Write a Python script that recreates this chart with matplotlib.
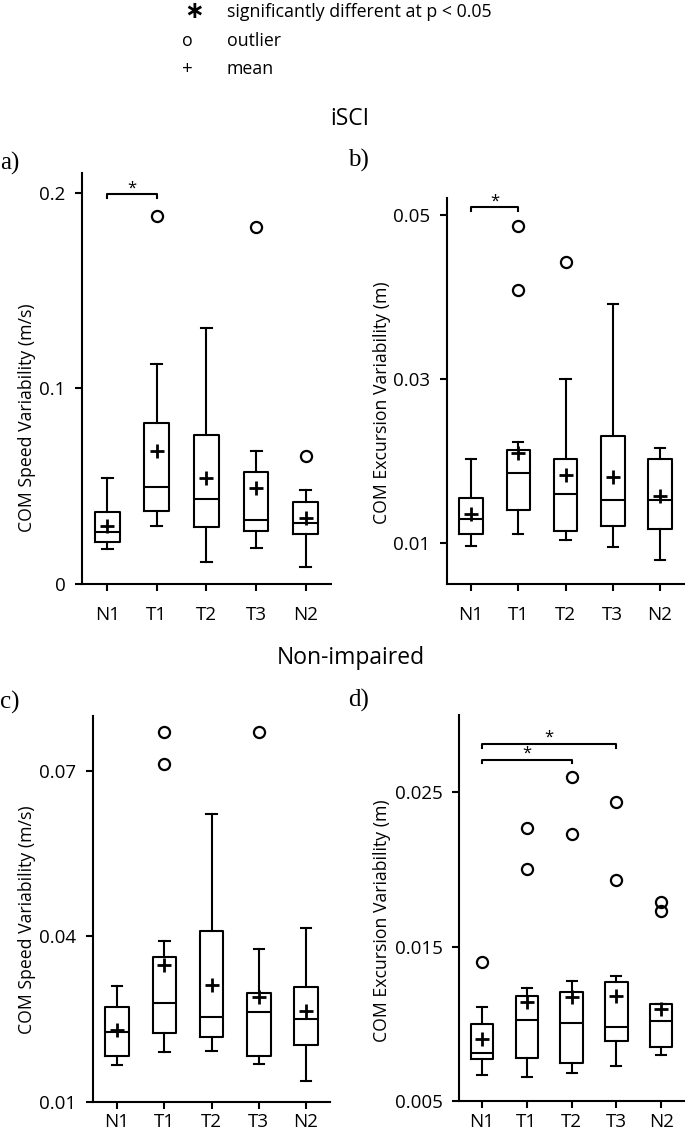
import matplotlib
matplotlib.use('Agg')
import matplotlib.pyplot as plt

plt.rcParams['font.family'] = ['Open Sans', 'DejaVu Sans']

groups = ['N1', 'T1', 'T2', 'T3', 'N2']

# a) iSCI COM speed variability (m/s)
a_whislo = [0.0179, 0.0297, 0.0113, 0.0182, 0.0085]
a_q1 = [0.0217, 0.0373, 0.0292, 0.0271, 0.0254]
a_med = [0.0268, 0.0495, 0.0433, 0.0327, 0.0312]
a_q3 = [0.0367, 0.0825, 0.0764, 0.0571, 0.0418]
a_whishi = [0.0540, 0.1124, 0.1308, 0.0682, 0.0481]
a_mean = [0.0298, 0.0682, 0.0544, 0.0489, 0.0339]
a_fliers = [[], [0.188], [], [0.1824], [0.0655]]

# b) iSCI COM excursion variability (m)
b_whislo = [0.00959, 0.01113, 0.01032, 0.00955, 0.00797]
b_q1 = [0.01113, 0.01406, 0.01141, 0.01211, 0.01174]
b_med = [0.01292, 0.01852, 0.01597, 0.01527, 0.01527]
b_q3 = [0.01543, 0.02128, 0.02027, 0.02298, 0.02027]
b_whishi = [0.0202, 0.02234, 0.02993, 0.03915, 0.02161]
b_mean = [0.01357, 0.02096, 0.01832, 0.01804, 0.01568]
b_fliers = [[], [0.04868, 0.04082], [0.0443], [], []]

# c) non-impaired COM speed variability (m/s)
c_whislo = [0.0166, 0.01895, 0.01919, 0.01678, 0.01381]
c_q1 = [0.01828, 0.02251, 0.02178, 0.01828, 0.02028]
c_med = [0.02258, 0.02795, 0.0253, 0.02626, 0.02493]
c_q3 = [0.02722, 0.03617, 0.041, 0.02965, 0.03085]
c_whishi = [0.03097, 0.03918, 0.06215, 0.03762, 0.04154]
c_mean = [0.023, 0.03483, 0.03115, 0.02903, 0.02644]
c_fliers = [[], [0.07707, 0.07127], [], [0.07707], []]

# d) non-impaired COM excursion variability (m)
d_whislo = [0.0067, 0.00654, 0.00684, 0.00727, 0.00796]
d_q1 = [0.0077, 0.00777, 0.00744, 0.00891, 0.00848]
d_med = [0.00809, 0.01025, 0.01004, 0.00978, 0.0102]
d_q3 = [0.01001, 0.01183, 0.01209, 0.01274, 0.01129]
d_whishi = [0.0111, 0.01231, 0.0128, 0.01311, 0.01129]
d_mean = [0.009, 0.01144, 0.01176, 0.01181, 0.01095]
d_fliers = [[0.014], [0.02268, 0.020], [0.026, 0.02227], [0.02437, 0.01929], [0.01789, 0.01728]]

# significance brackets: (from group, to group, height)
a_sig = [(0, 1, 0.1993)]
b_sig = [(0, 1, 0.0509)]
c_sig = []
d_sig = [(0, 2, 0.02711), (0, 3, 0.02813)]

fig = plt.figure(figsize=(6.85, 11.36), dpi=100)

lw = 1.5
kw = dict(color='black', linewidth=lw)
narrow = ['Liberation Sans Narrow', 'Open Sans', 'DejaVu Sans']


def make_stats(whislo, q1, med, q3, whishi, mean, fliers):
    stats = []
    for i in range(len(groups)):
        stats.append(dict(whislo=whislo[i], q1=q1[i], med=med[i], q3=q3[i],
                          whishi=whishi[i], mean=mean[i], fliers=fliers[i]))
    return stats


def panel(rect, stats, ylim, yticks, yticklabels, ylabel, sig, lab_x, lab_y, xpad=11):
    ax = fig.add_axes(rect)
    ax.bxp(stats, positions=range(1, 6), widths=0.5, showmeans=True,
           boxprops=kw, medianprops=kw, whiskerprops=kw,
           capprops=kw, capwidths=0.22,
           meanprops=dict(marker='+', markersize=10, markeredgewidth=2,
                          markeredgecolor='black'),
           flierprops=dict(marker='o', markersize=8, markerfacecolor='none',
                           markeredgecolor='black', markeredgewidth=1.6))
    ax.set_xlim(0.49, 5.51)
    ax.set_ylim(*ylim)
    ax.set_xticks(range(1, 6))
    ax.set_xticklabels(groups, fontsize=13.5)
    ax.set_yticks(yticks)
    ax.set_yticklabels(yticklabels, fontsize=13.5)
    ax.set_ylabel(ylabel, fontsize=12.7, family=narrow)
    ax.yaxis.label.set_verticalalignment('center')
    ax.yaxis.set_label_coords(lab_x, lab_y)
    for s in ['top', 'right']:
        ax.spines[s].set_visible(False)
    for s in ['left', 'bottom']:
        ax.spines[s].set_linewidth(lw)
    ax.tick_params(axis='x', width=lw, length=5, pad=xpad)
    ax.tick_params(axis='y', width=lw, length=5, pad=7)
    dy = (ylim[1] - ylim[0]) * 0.01
    for i, j, h in sig:
        ax.plot([i + 1, i + 1, j + 1, j + 1], [h - dy, h, h, h - dy],
                color='black', linewidth=1.5, clip_on=False)
        ax.text((i + j) / 2 + 1, h - dy * 0.5, '*', ha='center', va='bottom', fontsize=12)
    return ax


ax_a = panel([0.1197, 0.4859, 0.3635, 0.3618],
             make_stats(a_whislo, a_q1, a_med, a_q3, a_whishi, a_mean, a_fliers),
             (0, 0.2102), [0, 0.1, 0.2], ['0', '0.1', '0.2'],
             'COM Speed Variability (m/s)', a_sig, -0.221, 0.404)
ax_b = panel([0.6526, 0.4859, 0.3459, 0.3395],
             make_stats(b_whislo, b_q1, b_med, b_q3, b_whishi, b_mean, b_fliers),
             (0.005, 0.052), [0.01, 0.03, 0.05], ['0.01', '0.03', '0.05'],
             'COM Excursion Variability (m)', b_sig, -0.274, 0.469)
ax_c = panel([0.1358, 0.0302, 0.346, 0.3395],
             make_stats(c_whislo, c_q1, c_med, c_q3, c_whishi, c_mean, c_fliers),
             (0.01, 0.0799), [0.01, 0.04, 0.07], ['0.01', '0.04', '0.07'],
             'COM Speed Variability (m/s)', c_sig, -0.278, 0.472, xpad=3.5)
ax_d = panel([0.6705, 0.0308, 0.328, 0.3398],
             make_stats(d_whislo, d_q1, d_med, d_q3, d_whishi, d_mean, d_fliers),
             (0.005, 0.030), [0.005, 0.015, 0.025], ['0.005', '0.015', '0.025'],
             'COM Excursion Variability (m)', d_sig, -0.345, 0.466, xpad=3.5)

# panel letters
serif = ['Liberation Serif', 'DejaVu Serif']
for x, y, t in [(0.0, 0.8565, 'a)'), (0.508, 0.859, 'b)'),
                (0.0, 0.382, 'c)'), (0.508, 0.3838, 'd)')]:
    fig.text(x, y, t, fontsize=18, family=serif, va='center', ha='left')

# legend key at the top
fig.text(0.283, 0.9895, '\u2217', fontsize=17, ha='center', va='center', weight='bold')
fig.text(0.331, 0.9895, 'significantly different at p < 0.05', fontsize=12.8, va='center')
fig.text(0.274, 0.964, 'o', fontsize=12.8, ha='center', va='center')
fig.text(0.331, 0.964, 'outlier', fontsize=12.8, va='center')
fig.text(0.273, 0.9395, '+', fontsize=13.5, ha='center', va='center')
fig.text(0.331, 0.9395, 'mean', fontsize=12.8, va='center')

fig.text(0.51, 0.8952, 'iSCI', fontsize=16.5, ha='center', va='center')
fig.text(0.512, 0.4208, 'Non-impaired', fontsize=16.5, ha='center', va='center')

fig.savefig('out.png', dpi=100)
